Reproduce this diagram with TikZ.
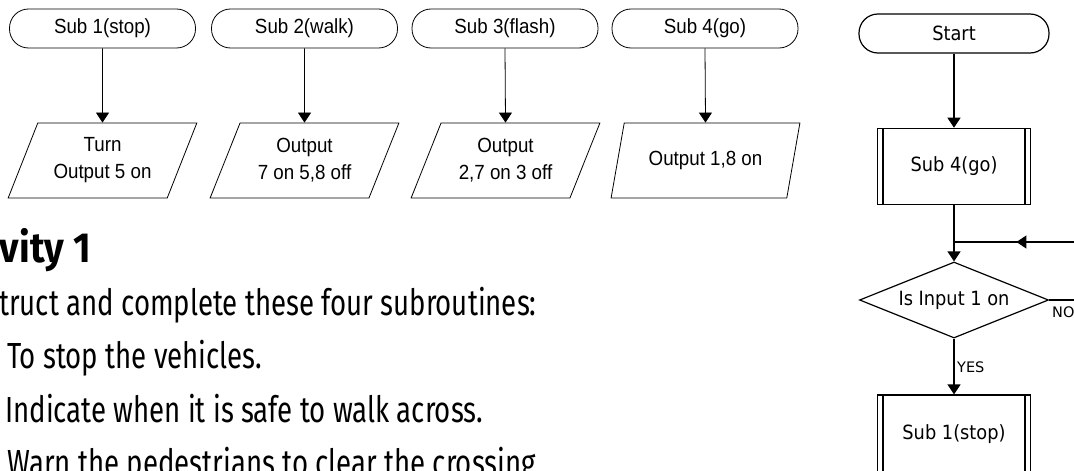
\documentclass[tikz,border=0pt]{standalone}
\usepackage{fontspec}
\usepackage{graphicx}
\usetikzlibrary{shapes.geometric,arrows.meta,decorations.markings}
\newfontfamily\bodyfont{Fira Sans}
\newfontfamily\chartfont{Liberation Sans}
\newfontfamily\flowfont{DejaVu Sans}
\newlength\natw
% horizontal squeeze for each family, computed before the picture
\newcommand\lsq[1]{\scalebox{\lscale}[1]{#1}}
\newcommand\rsq[1]{\scalebox{\rscale}[1]{#1}}
\newcommand\bsq[1]{\scalebox{\bscale}[1]{#1}}

\begin{document}
\settowidth\natw{\chartfont\fontsize{20.5}{27}\selectfont Output 5 on}%
\pgfmathsetmacro\lscale{98/\natw}%
\settowidth\natw{\flowfont\fontsize{19.6}{24}\selectfont Is Input 1 on}%
\pgfmathsetmacro\rscale{111/\natw}%
\settowidth\natw{\bodyfont\fontsize{36.3}{44}\selectfont Indicate when it is safe to walk across.}%
\pgfmathsetmacro\bscale{478/\natw}%
\begin{tikzpicture}[x=1pt,y=-1pt,
  lfont/.style={font=\chartfont\fontsize{20.5}{27}\selectfont},
  rfont/.style={font=\flowfont\fontsize{19.6}{24}\selectfont},
  term/.style={lfont, draw, line width=0.8pt, rounded corners=19pt,
    minimum width=186pt, minimum height=39pt, inner sep=0pt},
  pgram/.style={lfont, draw, line width=0.8pt, trapezium,
    trapezium left angle=63.7, trapezium right angle=116.3,
    trapezium stretches=true, minimum width=189pt, minimum height=75pt,
    inner sep=0pt, align=center},
  larr/.style={line width=0.8pt, -{Triangle[length=10pt,width=13pt]}},
  rterm/.style={rfont, draw, line width=1.2pt, rounded corners=19pt,
    minimum width=190pt, minimum height=39pt, inner sep=0pt},
  subbox/.style={rfont, draw, line width=1.2pt, rectangle,
    minimum width=153pt, minimum height=76pt, inner sep=0pt,
    path picture={
      \draw[line width=1.2pt]
        ([xshift=5.5pt]path picture bounding box.north west) --
        ([xshift=5.5pt]path picture bounding box.south west);
      \draw[line width=1.2pt]
        ([xshift=-5.5pt]path picture bounding box.north east) --
        ([xshift=-5.5pt]path picture bounding box.south east);}},
  decis/.style={rfont, draw, line width=1.2pt, diamond, aspect=2.5,
    minimum width=189pt, minimum height=76pt, inner sep=0pt},
  rline/.style={line width=1.2pt},
  rarr/.style={line width=1.2pt, -{Triangle[length=10pt,width=13pt]}},
  midarr/.style={line width=1.2pt, decoration={markings,
    mark=at position 0.6 with {\arrow{Triangle[length=10pt,width=13pt]}}},
    postaction={decorate}},
  yn/.style={font=\flowfont\fontsize{14.5}{17}\selectfont, inner sep=0pt},
  body/.style={font=\bodyfont\fontsize{36.3}{44}\selectfont, inner sep=0pt},
  head/.style={font=\bodyfont\bfseries\fontsize{42}{50}\selectfont, inner sep=0pt}
]
\useasboundingbox (0,0) rectangle (1074,471);
\clip (0,0) rectangle (1074,471);

% the four subroutines
\node[term] (t1) at (102.5,28.5) {\lsq{Sub 1(stop)}};
\node[term] (t2) at (304.5,28.5) {\lsq{Sub 2(walk)}};
\node[term] (t3) at (505,28.5) {\lsq{Sub 3(flash)}};
\node[term] (t4) at (705,28.5) {\lsq{Sub 4(go)}};

\node[pgram] (o1) at (102.5,160.5) {\lsq{Turn}\\\lsq{Output 5 on}};
\node[pgram] (o2) at (304.5,160.5) {\lsq{Output}\\\lsq{7 on 5,8 off}};
\node[pgram] (o3) at (505.5,160.5) {\lsq{Output}\\\lsq{2,7 on 3 off}};
\node[pgram] (o4) at (705.5,160.5) {\lsq{Output 1,8 on}};

\foreach \i in {1,...,4} \draw[larr] (t\i.south) -- (o\i.north);

% activity text
\node[head, anchor=base east] (h1) at (91,262) {\resizebox{91pt}{\height}{vity 1}};
\node[body, anchor=base west] (l2) at (-1,315) {\bsq{truct and complete these four subroutines:}};
\node[body, anchor=base west] (l3) at (7,368) {\bsq{To stop the vehicles.}};
\node[body, anchor=base west] (l4) at (5,422) {\bsq{Indicate when it is safe to walk across.}};
\node[body, anchor=base west] (l5) at (7,475.5) {\bsq{Warn the pedestrians to clear the crossing}};

% main program
\node[rterm] (start) at (954,33.5) {\rsq{Start}};
\node[subbox] (s4) at (954,166.3) {\rsq{Sub 4(go)}};
\node[decis] (dec) at (954,300) {\rsq{Is Input 1 on}};
\node[subbox, minimum height=78pt] (s1) at (954,434) {\rsq{Sub 1(stop)}};
\coordinate (j) at (954,242);
\coordinate (back) at (1110,242);

\draw[rarr] (start) -- (s4);
\draw[rline] (s4) -- (j);
\draw[rarr] (j) -- (dec.north);
\draw[rarr] (dec.south) -- (s1.north);
\draw[rline] (dec.east) -- (dec.east -| back) -- (back);
\draw[midarr] (back) -- (j);

\node[yn, anchor=base west] (yes) at (957,372) {YES};
\node[yn, anchor=base west] (no) at (1052,317) {NO};
\end{tikzpicture}
\end{document}
